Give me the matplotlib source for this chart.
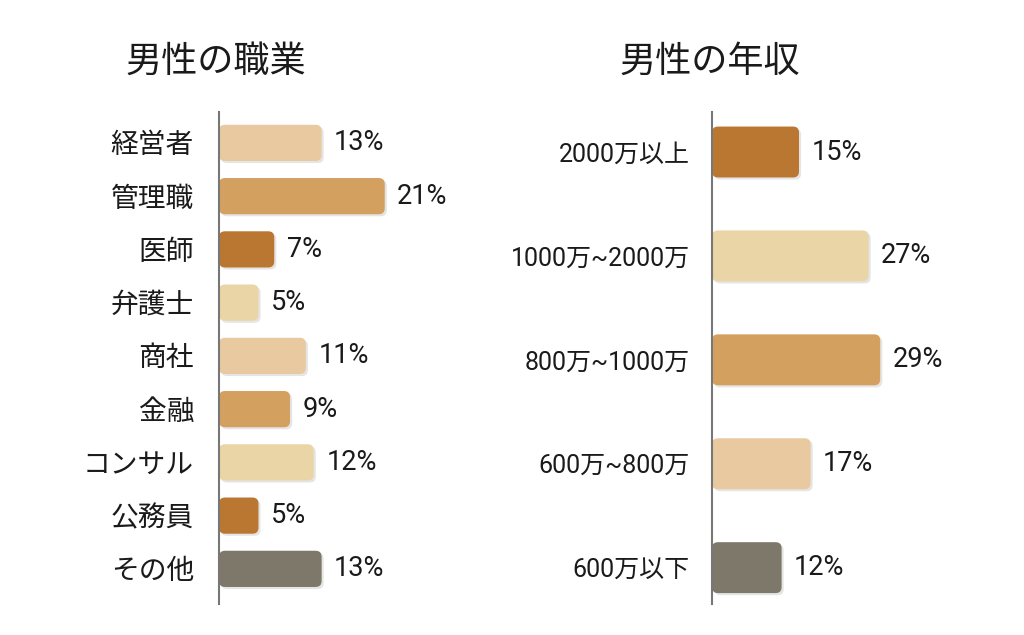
import matplotlib
matplotlib.use("Agg")
import matplotlib.pyplot as plt
from matplotlib.patches import FancyBboxPatch
import matplotlib.patheffects as pe

plt.rcParams['font.family'] = ['Roboto', 'Noto Sans CJK JP', 'DejaVu Sans']

# ---- data ----
job_title = "男性の職業"
job_labels = ["経営者", "管理職", "医師", "弁護士", "商社", "金融", "コンサル", "公務員", "その他"]
job_values = [13, 21, 7, 5, 11, 9, 12, 5, 13]
job_colors = ["#E8C9A0", "#D4A060", "#BA7731", "#EAD5A6", "#E8C9A0",
              "#D4A060", "#EAD5A6", "#BA7731", "#7E786A"]

inc_title = "男性の年収"
inc_labels = ["2000万以上", "1000万~2000万", "800万~1000万", "600万~800万", "600万以下"]
inc_values = [15, 27, 29, 17, 12]
inc_colors = ["#BA7731", "#EAD5A6", "#D4A060", "#E8C9A0", "#7E786A"]

W, H = 1024, 635
fig = plt.figure(figsize=(W / 100, H / 100), dpi=100)
fig.patch.set_facecolor("white")
TXT = "#1a1a1a"


def draw(ax_rect, labels, values, colors, xlim, ylim, height, fs_tick, fs_val, pad):
    ax = fig.add_axes(ax_rect)
    ax.set_xlim(*xlim)
    ax.set_ylim(*ylim)
    ypos = list(range(len(labels)))
    bars = ax.barh(ypos, values, height=height, color=colors)
    bbox = ax.get_window_extent()
    px_x = bbox.width / (xlim[1] - xlim[0])
    px_y = bbox.height / abs(ylim[1] - ylim[0])
    r_px = 6
    for b, c, v in zip(bars, colors, values):
        x, y = b.get_x(), b.get_y()
        w, h = b.get_width(), b.get_height()
        b.set_visible(False)
        p = FancyBboxPatch((x, y), w, h,
                           boxstyle=f"round,pad=0,rounding_size={r_px / px_x}",
                           mutation_aspect=px_x / px_y,
                           facecolor=c, edgecolor="none", zorder=2,
                           path_effects=[pe.SimplePatchShadow(offset=(1.5, -1.5), shadow_rgbFace="#999999", alpha=0.25),
                                         pe.Normal()])
        ax.add_patch(p)
        ax.annotate(f"{v}%", xy=(w, y + h / 2),
                    xytext=(9, 0), textcoords="offset points",
                    va="center", ha="left", fontsize=fs_val, color=TXT)
    ax.set_yticks(ypos)
    ax.set_yticklabels(labels, fontsize=fs_tick, color=TXT)
    ax.tick_params(axis="y", length=0, pad=pad)
    ax.set_xticks([])
    for s in ["top", "right", "bottom"]:
        ax.spines[s].set_visible(False)
    ax.spines["left"].set_color("#777777")
    ax.spines["left"].set_linewidth(1.5)
    ax.spines["left"].set_zorder(3)
    return ax


draw([219 / W, 31 / H, 221 / W, 492 / H], job_labels, job_values, job_colors,
     (0, 28), (8.66, -0.58), 0.68, 20, 19.5, 18)
draw([712 / W, 31 / H, 232 / W, 492 / H], inc_labels, inc_values, inc_colors,
     (0, 40), (4.35, -0.385), 0.49, 18, 19.5, 16)

fig.text(216 / W, 1 - 62 / H, job_title, ha="center", va="center", fontsize=26, color=TXT)
fig.text(710 / W, 1 - 62 / H, inc_title, ha="center", va="center", fontsize=26, color=TXT)

fig.savefig("out.png", dpi=100, facecolor="white")
